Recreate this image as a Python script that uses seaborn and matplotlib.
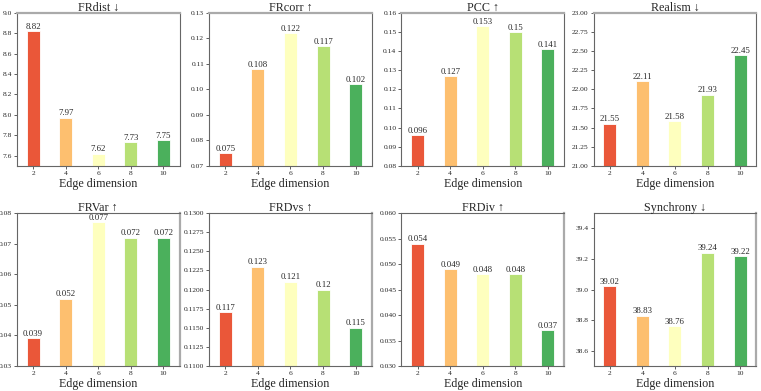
import numpy as np
import seaborn as sns
import matplotlib.pyplot as plt
from matplotlib.ticker import MultipleLocator, FormatStrFormatter

# Edge dimension ablation
dims = [2, 4, 6, 8, 10]

titles = ['FRdist ↓', 'FRcorr ↑', 'PCC ↑', 'Realism ↓',
          'FRVar ↑', 'FRDvs ↑', 'FRDiv ↑', 'Synchrony ↓']

frdist = [8.82, 7.97, 7.62, 7.73, 7.75]
frcorr = [0.075, 0.108, 0.122, 0.117, 0.102]
pcc = [0.096, 0.127, 0.153, 0.15, 0.141]
realism = [21.55, 22.11, 21.58, 21.93, 22.45]
frvar = [0.039, 0.052, 0.077, 0.072, 0.072]
frdvs = [0.117, 0.123, 0.121, 0.12, 0.115]
frdiv = [0.054, 0.049, 0.048, 0.048, 0.037]
synchrony = [39.02, 38.83, 38.76, 39.24, 39.22]

series = [frdist, frcorr, pcc, realism, frvar, frdvs, frdiv, synchrony]

# axis limits, tick step, tick format
ylims = [(7.5, 9.0), (0.07, 0.13), (0.08, 0.16), (21.0, 23.0),
         (0.03, 0.08), (0.11, 0.13), (0.03, 0.06), (38.5, 39.5)]
ysteps = [0.2, 0.01, 0.01, 0.25, 0.01, 0.0025, 0.005, 0.2]
yfmts = ['%.1f', '%.2f', '%.2f', '%.2f', '%.2f', '%.4f', '%.3f', '%.1f']

sns.set_style('white')
plt.rcParams['font.family'] = ['Liberation Serif', 'DejaVu Serif']

colors = sns.color_palette('RdYlGn', 5)

fig, axes = plt.subplots(2, 4, figsize=(7.61, 3.91), dpi=100)
fig.subplots_adjust(left=0.022, right=0.994, top=0.967, bottom=0.064,
                    wspace=0.18, hspace=0.31)

for i, (ax, title, vals, lim, step, fmt) in enumerate(
        zip(axes.flat, titles, series, ylims, ysteps, yfmts)):
    sns.barplot(x=dims, y=vals, hue=dims, palette=colors, legend=False,
                saturation=1, width=0.4, edgecolor='white', linewidth=0.6, ax=ax)
    ax.set_ylim(*lim)
    ax.yaxis.set_major_locator(MultipleLocator(step))
    ax.yaxis.set_major_formatter(FormatStrFormatter(fmt))
    for c in ax.containers:
        ax.bar_label(c, labels=[f'{v:g}' for v in c.datavalues],
                     fontsize=6.3, padding=0.3)
    ax.set_title(title, fontsize=8.7, pad=1.5)
    ax.set_xlabel('Edge dimension', fontsize=8.7, labelpad=1.5)
    ax.set_ylabel('')
    ax.tick_params(axis='both', labelsize=5.4, length=2, width=0.6,
                   pad=1.5, left=True, bottom=True, color='#444444')
    for side in ['left', 'right', 'bottom', 'top']:
        ax.spines[side].set_color('#666666')
        ax.spines[side].set_linewidth(0.8)
    # the reference shows one lighter, heavier frame edge per row
    edge = 'top' if i < 4 else 'right'
    ax.spines[edge].set_color('#aaaaaa')
    ax.spines[edge].set_linewidth(1.6)

plt.savefig('out.png', dpi=100)
